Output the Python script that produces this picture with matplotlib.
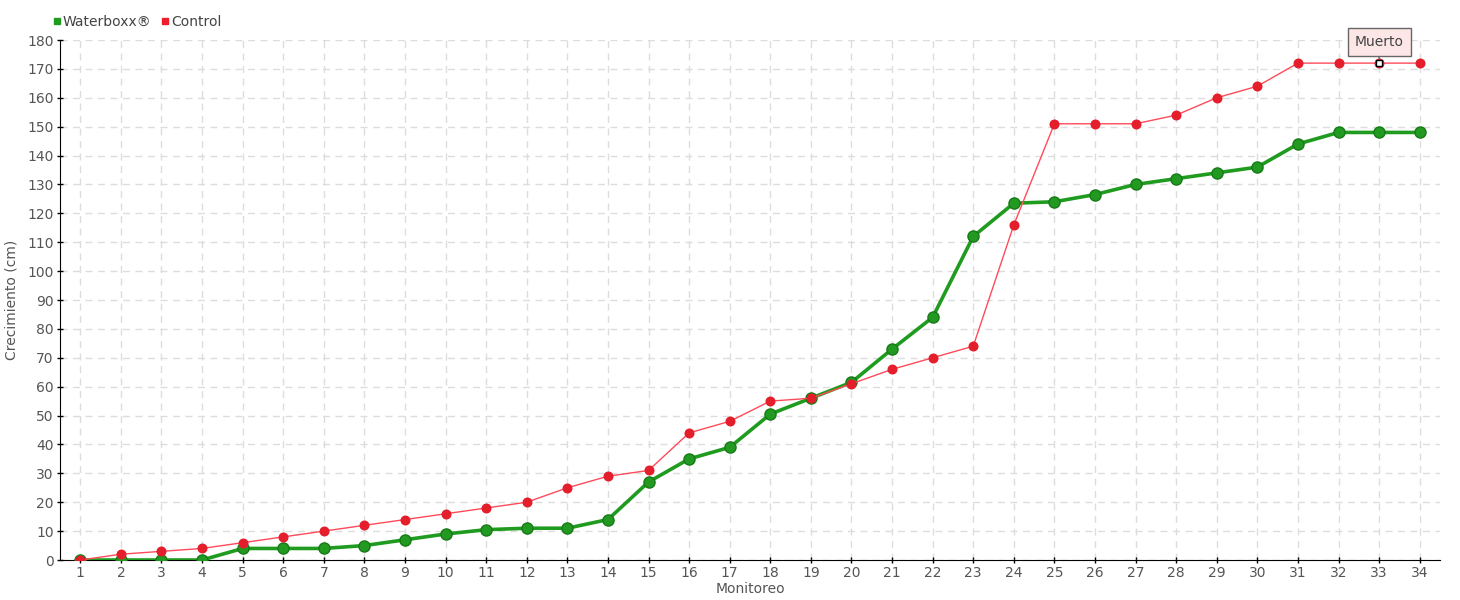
import matplotlib
matplotlib.use("Agg")
import matplotlib.pyplot as plt
from matplotlib.lines import Line2D
from matplotlib import font_manager

names = {f.name for f in font_manager.fontManager.ttflist}
fam = ['Liberation Sans Narrow', 'DejaVu Sans'] if 'Liberation Sans Narrow' in names else ['DejaVu Sans']
plt.rcParams['font.family'] = fam

monitoreo = list(range(1, 35))
waterboxx = [0, 0, 0, 0, 4, 4, 4, 5, 7, 9, 10.5, 11, 11, 14, 27, 35, 39, 50.5, 56, 61.5,
             73, 84, 112, 123.5, 124, 126.5, 130, 132, 134, 136, 144, 148, 148, 148]
control = [0, 2, 3, 4, 6, 8, 10, 12, 14, 16, 18, 20, 25, 29, 31, 44, 48, 55, 56, 61,
           66, 70, 74, 116, 151, 151, 151, 154, 160, 164, 172, 172, 172, 172]
y_ticks = list(range(0, 181, 10))
annot_idx = 32
annot_text = "Muerto"

fig = plt.figure(figsize=(14.6, 6), dpi=100)
ax = fig.add_axes([60/1460, 40/600, 1380/1460, 520/600])

ax.plot(monitoreo, waterboxx, color='#1f9b1f', lw=2.6, marker='o', ms=8,
        mfc='#229a22', mec='#177a17', mew=1.0, zorder=3, solid_capstyle='round')
ax.plot(monitoreo, control, color='#ff4a5a', lw=1.0, marker='o', ms=6.2,
        mfc='#e41e2b', mec='#e41e2b', zorder=4)
# annotated point
ax.plot([monitoreo[annot_idx]], [control[annot_idx]], marker='s', ms=4.5, mfc='white',
        mec='black', mew=1.0, zorder=5, ls='none')
ax.annotate(annot_text, xy=(monitoreo[annot_idx], control[annot_idx]),
            xytext=(0, 15), textcoords='offset points', ha='center', va='center',
            fontsize=10, color='#444444',
            bbox=dict(boxstyle='square,pad=0.5', fc='#fde6e6', ec='#666666', lw=1),
            arrowprops=dict(arrowstyle='-', color='#666666', lw=1, shrinkA=0, shrinkB=3),
            zorder=6)

ax.set_xlim(0.5, 34.5)
ax.set_ylim(0, 180)
ax.set_xticks(monitoreo)
ax.set_yticks(y_ticks)
ax.tick_params(axis='both', labelsize=10, labelcolor='#555555', color='black',
               direction='inout', length=5, width=1, pad=2)
ax.grid(True, color='#dddddd', ls=(0, (5, 4)), lw=1)
ax.set_axisbelow(True)
for s in ['top', 'right']:
    ax.spines[s].set_visible(False)
ax.spines['left'].set_color('black')
ax.spines['bottom'].set_color('black')
ax.set_xlabel('Monitoreo', fontsize=10, color='#555555', labelpad=1)
ax.set_ylabel('Crecimiento (cm)', fontsize=10, color='#555555', labelpad=6)

handles = [Line2D([], [], ls='none', marker='s', ms=5, mfc='#1f9b1f', mec='#1f9b1f'),
           Line2D([], [], ls='none', marker='s', ms=5, mfc='#ee1c2c', mec='#ee1c2c')]
fig.legend(handles, ['Waterboxx®', 'Control'], loc='center left',
           bbox_to_anchor=(44/1460, 1 - 22/600), ncol=2, frameon=False,
           fontsize=10, labelcolor='#444444', handletextpad=0.05,
           columnspacing=0.6, handlelength=0.8, borderpad=0)

fig.savefig('out.png', dpi=100)
